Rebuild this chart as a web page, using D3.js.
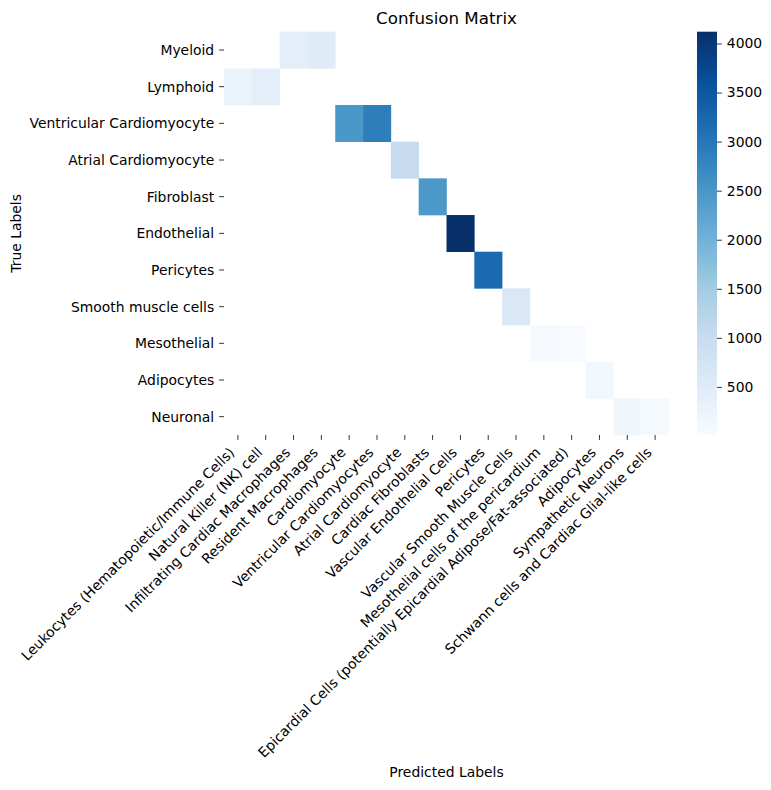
<!DOCTYPE html>
<html>
<head>
<meta charset="utf-8">
<script src="https://cdn.jsdelivr.net/npm/d3@7"></script>
<style>
  body { margin: 0; background: #fff; }
  text { font-family: "DejaVu Sans", sans-serif; fill: #000; }
</style>
</head>
<body>
<div id="chart"></div>
<script>
// row / column categories
var trueLabels = ["Myeloid", "Lymphoid", "Ventricular Cardiomyocyte", "Atrial Cardiomyocyte",
  "Fibroblast", "Endothelial", "Pericytes", "Smooth muscle cells", "Mesothelial",
  "Adipocytes", "Neuronal"];

var predLabels = ["Leukocytes (Hematopoietic/Immune Cells)", "Natural Killer (NK) cell",
  "Infiltrating Cardiac Macrophages", "Resident Macrophages", "Cardiomyocyte",
  "Ventricular Cardiomyocytes", "Atrial Cardiomyocyte", "Cardiac Fibroblasts",
  "Vascular Endothelial Cells", "Pericytes", "Vascular Smooth Muscle Cells",
  "Mesothelial cells of the pericardium",
  "Epicardial Cells (potentially Epicardial Adipose/Fat-associated)", "Adipocytes",
  "Sympathetic Neurons", "Schwann cells and Cardiac Glial-like cells"];

// non-zero cells: [row, col, count]
var cells = [
  [0, 2, 420], [0, 3, 500],
  [1, 0, 280], [1, 1, 420],
  [2, 4, 2480], [2, 5, 2890],
  [3, 6, 1040],
  [4, 7, 2470],
  [5, 8, 4120],
  [6, 9, 3210],
  [7, 10, 620],
  [8, 11, 30], [8, 12, 10],
  [9, 13, 150],
  [10, 14, 175], [10, 15, 70]
];

var cbarTicks = [500, 1000, 1500, 2000, 2500, 3000, 3500, 4000];

// matplotlib "Blues" stops
var bluesStops = ["#f7fbff", "#deebf7", "#c6dbef", "#9ecae1", "#6baed6",
  "#4292c6", "#2171b5", "#08519c", "#08306b"];

var W = 771, H = 790;
var plotL = 224, plotR = 669, plotT = 31.7, plotB = 435;
var fs = 13.9, tick = 4.9;

var svg = d3.select("#chart").append("svg")
  .attr("width", W).attr("height", H);

var x = d3.scaleBand().domain(d3.range(predLabels.length)).range([plotL, plotR]);
var y = d3.scaleBand().domain(d3.range(trueLabels.length)).range([plotT, plotB]);

var vmin = d3.min(cells, function(d) { return d[2]; });
var vmax = d3.max(cells, function(d) { return d[2]; });
var stopScale = d3.scaleLinear()
  .domain(d3.range(bluesStops.length).map(function(i) { return i / (bluesStops.length - 1); }))
  .range(bluesStops)
  .interpolate(d3.interpolateRgb)
  .clamp(true);
var color = function(v) { return stopScale((v - vmin) / (vmax - vmin)); };

// cells
svg.append("g").selectAll("rect")
  .data(cells)
  .enter().append("rect")
  .attr("x", function(d) { return x(d[1]); })
  .attr("y", function(d) { return y(d[0]); })
  .attr("width", x.bandwidth() + 0.3)
  .attr("height", y.bandwidth() + 0.3)
  .attr("fill", function(d) { return color(d[2]); });

// y axis
var yAxis = svg.append("g");
trueLabels.forEach(function(lab, i) {
  var cy = y(i) + y.bandwidth() / 2;
  yAxis.append("line")
    .attr("x1", plotL - tick).attr("x2", plotL)
    .attr("y1", cy).attr("y2", cy)
    .attr("stroke", "#000").attr("stroke-width", 0.8);
  yAxis.append("text")
    .attr("x", plotL - tick - 4.9).attr("y", cy)
    .attr("dy", "0.35em")
    .attr("text-anchor", "end")
    .style("font-size", fs + "px")
    .text(lab);
});

// x axis
var xAxis = svg.append("g");
predLabels.forEach(function(lab, i) {
  var cx = x(i) + x.bandwidth() / 2;
  xAxis.append("line")
    .attr("x1", cx).attr("x2", cx)
    .attr("y1", plotB).attr("y2", plotB + tick)
    .attr("stroke", "#000").attr("stroke-width", 0.8);
  xAxis.append("text")
    .attr("transform", "translate(" + (cx - 2.5) + "," + (plotB + tick + 4.9 + 8.5) + ") rotate(-45)")
    .attr("text-anchor", "end")
    .style("font-size", fs + "px")
    .text(lab);
});

// colorbar
var cbX = 697, cbW = 20;
var cbY = d3.scaleLinear().domain([vmin, vmax]).range([plotB, plotT]);
var defs = svg.append("defs");
var grad = defs.append("linearGradient").attr("id", "cbar")
  .attr("x1", 0).attr("x2", 0).attr("y1", 1).attr("y2", 0);
bluesStops.forEach(function(c, i) {
  grad.append("stop")
    .attr("offset", (i / (bluesStops.length - 1) * 100) + "%")
    .attr("stop-color", c);
});
svg.append("rect")
  .attr("x", cbX).attr("y", plotT)
  .attr("width", cbW).attr("height", plotB - plotT)
  .attr("fill", "url(#cbar)");

var cbAxis = svg.append("g")
  .attr("transform", "translate(" + (cbX + cbW) + ",0)")
  .call(d3.axisRight(cbY).tickValues(cbarTicks).tickSize(tick).tickPadding(4.9)
    .tickFormat(d3.format("d")));
cbAxis.select(".domain").remove();
cbAxis.selectAll("line").attr("stroke", "#000").attr("stroke-width", 0.8);
cbAxis.selectAll("text")
  .style("font-family", "DejaVu Sans, sans-serif")
  .style("font-size", fs + "px");

// titles
svg.append("text")
  .attr("x", (plotL + plotR) / 2).attr("y", 23.5)
  .attr("text-anchor", "middle")
  .style("font-size", "16.7px")
  .text("Confusion Matrix");

svg.append("text")
  .attr("x", (plotL + plotR) / 2).attr("y", 777)
  .attr("text-anchor", "middle")
  .style("font-size", fs + "px")
  .text("Predicted Labels");

svg.append("text")
  .attr("transform", "translate(21," + ((plotT + plotB) / 2) + ") rotate(-90)")
  .attr("text-anchor", "middle")
  .style("font-size", fs + "px")
  .text("True Labels");
</script>
</body>
</html>
